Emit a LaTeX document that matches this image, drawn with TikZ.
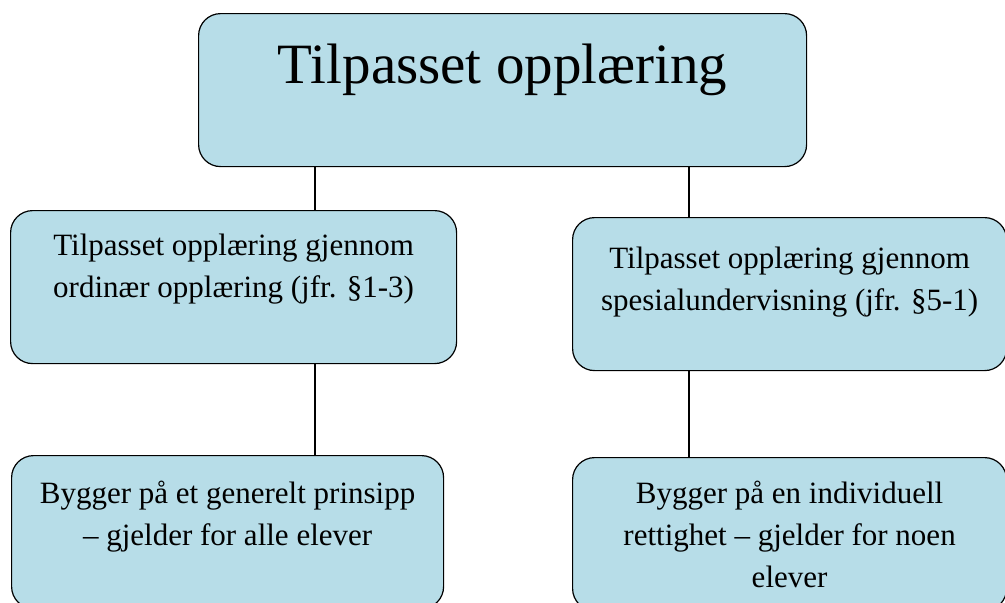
\documentclass[tikz,border=0pt]{standalone}
\usepackage{fontspec}
\setmainfont{Liberation Serif}
\definecolor{boxblue}{RGB}{183,221,232}
% box content: width, height, first baseline, text
\newcommand{\boxtxt}[4]{\parbox[t][#2][t]{#1}{\centering\rule{0pt}{#3}#4}}
\tikzset{blk/.style={draw, line width=1.2pt, fill=boxblue, rounded corners=22pt, inner sep=0pt, anchor=north west}}
\begin{document}
\begin{tikzpicture}[x=1pt,y=-1pt,font=\fontsize{31}{42}\selectfont, line join=round,line cap=round]
			\useasboundingbox (0,0) rectangle (1005,603);
			\node[blk,font=\fontsize{57}{70}\selectfont] (top) at (198,13) {\boxtxt{608pt}{153pt}{70pt}{Tilpasset opplæring}};
			\node[blk] (lmid) at (10,210) {\boxtxt{446pt}{153pt}{45pt}{Tilpasset opplæring gjennom\\ ordinær opplæring (jfr. §1-3)}};
			\node[blk] (rmid) at (572,217) {\boxtxt{434pt}{153pt}{51pt}{Tilpasset opplæring gjennom\\ spesialundervisning (jfr. §5-1)}};
			\node[blk] (lbot) at (11,455) {\boxtxt{432pt}{153pt}{48pt}{Bygger på et generelt prinsipp\\ – gjelder for alle elever}};
			\node[blk] (rbot) at (572,457) {\boxtxt{434pt}{153pt}{46pt}{Bygger på en individuell\\ rettighet – gjelder for noen\\ elever}};
			\coordinate (lx) at (315,0);
			\coordinate (rx) at (689,0);
			\draw[line width=1.4pt] (top.south -| lx)--(lmid.north -| lx) (lmid.south -| lx)--(lbot.north -| lx);
			\draw[line width=1.4pt] (top.south -| rx)--(rmid.north -| rx) (rmid.south -| rx)--(rbot.north -| rx);
		\end{tikzpicture}
\end{document}
